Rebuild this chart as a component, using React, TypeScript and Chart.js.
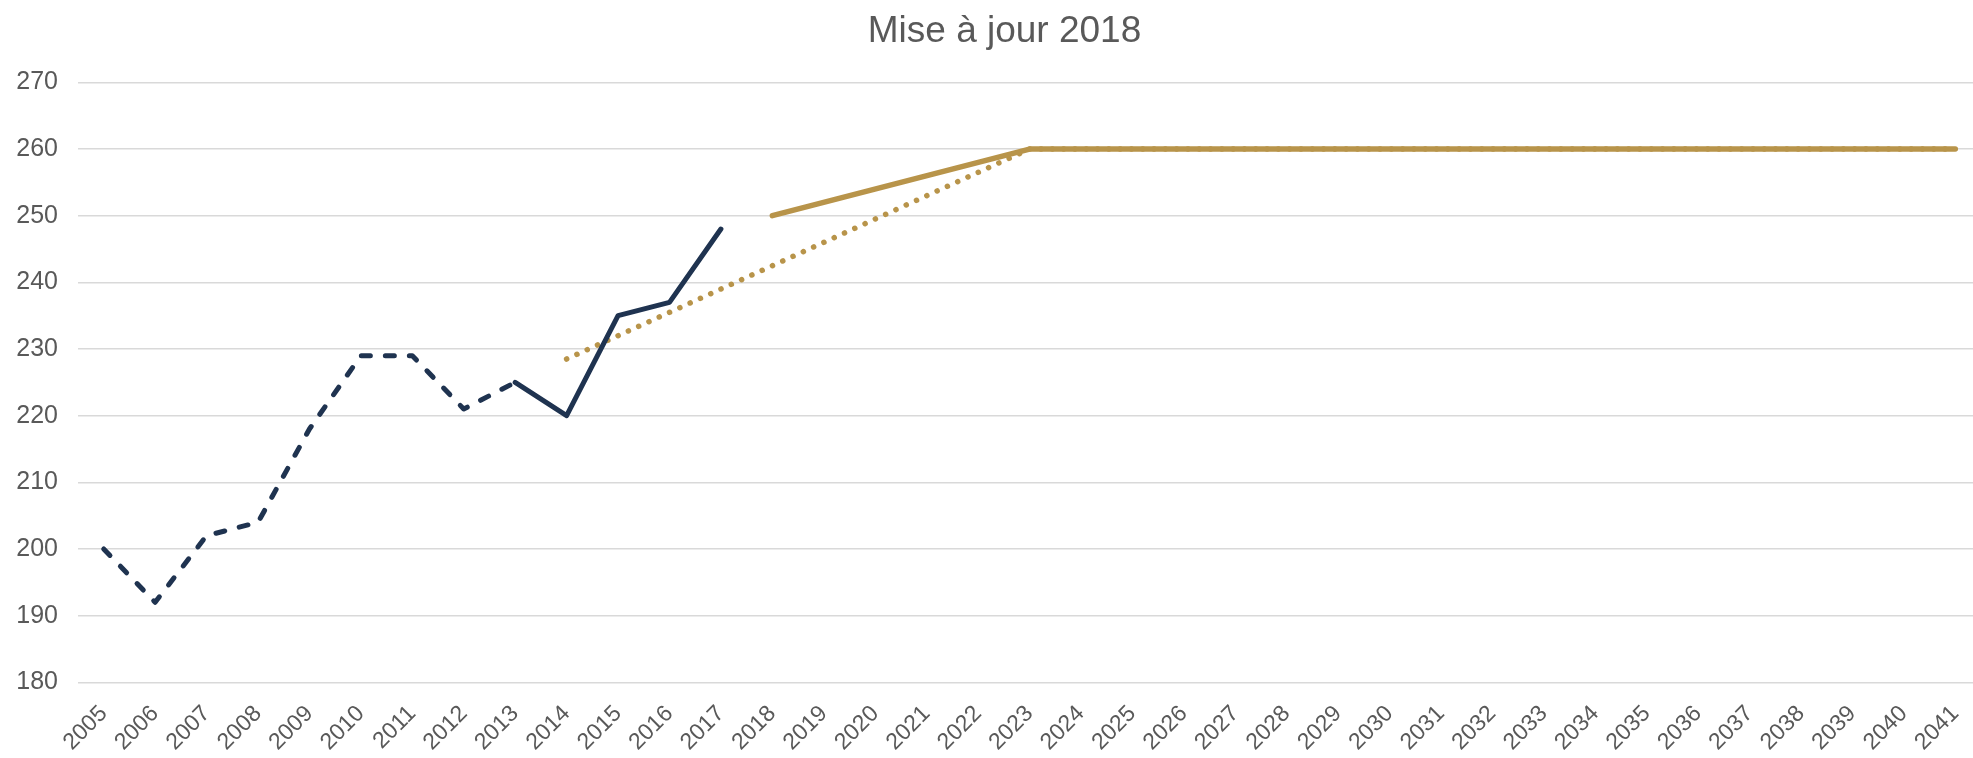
import React, { useEffect, useRef } from "react";
import { Chart, registerables } from "chart.js";

Chart.register(...registerables);

const years = [
  "2005", "2006", "2007", "2008", "2009", "2010", "2011", "2012", "2013", "2014",
  "2015", "2016", "2017", "2018", "2019", "2020", "2021", "2022", "2023", "2024",
  "2025", "2026", "2027", "2028", "2029", "2030", "2031", "2032", "2033", "2034",
  "2035", "2036", "2037", "2038", "2039", "2040", "2041",
];

// historical values (dashed part: 2005-2013)
const historiqueAncien = [200, 192, 202, 204, 218, 229, 229, 221, 225];
// historical values (solid part: 2013-2017)
const historiqueRecent = [225, 220, 235, 237, 248];
// previous trajectory (dotted), 2014 -> 2023, then plateau
const trajectoireDebut = 228.5;
const cible = 260;
// updated 2018 trajectory (solid gold), 2018 -> 2023, then plateau
const miseAJourDebut = 250;

const yTicks = [180, 190, 200, 210, 220, 230, 240, 250, 260, 270];

const NAVY = "#1F3350";
const GOLD = "#B8944A";
const TEXT = "#595959";
const GRID = "#D9D9D9";
const FONT = "'Liberation Sans', Arial, sans-serif";

function build() {
  const n = years.length;
  const idx = (y: string) => years.indexOf(y);
  const navyDashed: (number | null)[] = new Array(n).fill(null);
  historiqueAncien.forEach((v, i) => (navyDashed[idx("2005") + i] = v));
  const navySolid: (number | null)[] = new Array(n).fill(null);
  historiqueRecent.forEach((v, i) => (navySolid[idx("2013") + i] = v));
  const goldDotted: (number | null)[] = new Array(n).fill(null);
  goldDotted[idx("2014")] = trajectoireDebut;
  for (let i = idx("2023"); i < n; i++) goldDotted[i] = cible;
  const goldSolid: (number | null)[] = new Array(n).fill(null);
  goldSolid[idx("2018")] = miseAJourDebut;
  for (let i = idx("2023"); i < n; i++) goldSolid[i] = cible;
  return { navyDashed, navySolid, goldDotted, goldSolid };
}

const titleShift = {
  id: "titleShift",
  afterLayout(chart: any) {
    const t = chart.titleBlock;
    if (t) {
      t.left += 6;
      t.right += 6;
    }
  },
};

export default function App() {
  const ref = useRef<HTMLCanvasElement | null>(null);
  useEffect(() => {
    document.body.style.margin = "0";
    document.body.style.overflow = "hidden";
    const d = build();
    const common = {
      pointRadius: 0,
      pointHoverRadius: 0,
      tension: 0,
      spanGaps: true,
      borderJoinStyle: "round" as const,
      fill: false,
    };
    const chart = new Chart(ref.current!, {
      type: "line",
      plugins: [titleShift],
      data: {
        labels: years,
        datasets: [
          {
            ...common,
            label: "Historique",
            data: d.navySolid,
            borderColor: NAVY,
            borderWidth: 5,
            borderCapStyle: "round",
          },
          {
            ...common,
            label: "Historique (ancien)",
            data: d.navyDashed,
            borderColor: NAVY,
            borderWidth: 5,
            borderCapStyle: "round",
            borderDash: [9, 15],
          },
          {
            ...common,
            label: "Mise à jour 2018",
            data: d.goldSolid,
            borderColor: GOLD,
            borderWidth: 5.5,
            borderCapStyle: "round",
          },
          {
            ...common,
            label: "Trajectoire",
            data: d.goldDotted,
            borderColor: GOLD,
            borderWidth: 5.5,
            borderCapStyle: "round",
            borderDash: [0.1, 11.2],
          },
        ],
      },
      options: {
        responsive: false,
        animation: false,
        devicePixelRatio: 1,
        layout: { padding: { left: 16, right: 12, top: 0, bottom: 0 } },
        plugins: {
          legend: { display: false },
          tooltip: { enabled: false },
          title: {
            display: true,
            text: "Mise à jour 2018",
            color: TEXT,
            font: { family: FONT, size: 37, weight: "normal" },
            padding: { top: 10, bottom: 28 },
          },
        },
        scales: {
          x: {
            type: "category",
            offset: true,
            grid: { display: false, drawTicks: false },
            border: { display: false },
            ticks: {
              color: TEXT,
              font: { family: FONT, size: 23 },
              maxRotation: 45,
              minRotation: 45,
              autoSkip: false,
              padding: 18,
            },
            afterFit: (axis: any) => {
              axis.paddingLeft = 0;
              axis.paddingRight = 0;
              axis.height = axis.height - 16;
            },
          },
          y: {
            min: 180,
            max: 270,
            afterBuildTicks: (axis: any) => {
              axis.ticks = yTicks.map((v) => ({ value: v }));
            },
            afterFit: (axis: any) => {
              axis.width = 62;
            },
            grid: { color: GRID, lineWidth: 1.5, drawTicks: false },
            border: { display: false },
            ticks: {
              color: TEXT,
              font: { family: FONT, size: 25 },
              padding: 20,
            },
          },
        },
      },
    });
    return () => chart.destroy();
  }, []);
  return (
    <div style={{ width: 1993, height: 758 }}>
      <canvas ref={ref} width={1993} height={758} style={{ display: "block" }} />
    </div>
  );
}
